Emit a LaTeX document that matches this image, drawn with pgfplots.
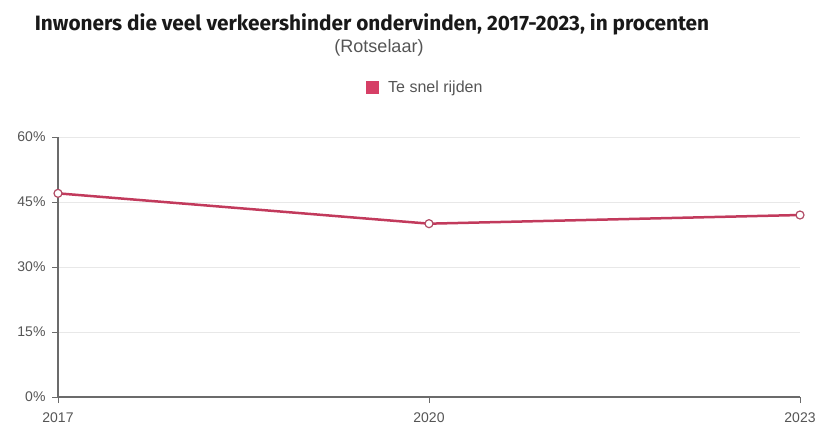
\documentclass[border=0pt]{standalone}
\usepackage{pgfplots}
\pgfplotsset{compat=1.18}
\usepackage{fontspec}
\setmainfont{Liberation Sans}
\newfontfamily\titlefont{Fira Sans}

\definecolor{lijn}{HTML}{C23A5C}
\definecolor{legvak}{HTML}{D63F66}
\definecolor{as}{HTML}{6B6B6B}
\definecolor{raster}{HTML}{E8E8E8}
\definecolor{tekst}{HTML}{555555}

\begin{document}
\begin{tikzpicture}[x=1pt,y=1pt]
\useasboundingbox (0,0) rectangle (819,426);
\begin{axis}[
    at={(58pt,29pt)}, anchor=south west,
    scale only axis,
    width=742pt, height=260pt,
    xmin=2017, xmax=2023,
    ymin=0, ymax=60,
    xtick={2017,2020,2023},
    ytick={0,15,30,45,60},
    yticklabel={\pgfmathprintnumber{\tick}\%},
    /pgf/number format/1000 sep={},
    /pgf/number format/assume math mode=true,
    axis x line*=bottom,
    axis y line*=left,
    axis line style={as, line width=1.2pt},
    tick style={as, line width=1pt},
    tick align=outside,
    major tick length=6pt,
    ymajorgrids,
    grid style={raster, line width=0.8pt},
    ticklabel style={font=\fontsize{14}{14}\selectfont, text=tekst},
    xticklabel style={yshift=-6pt},
    yticklabel style={xshift=-3pt},
    clip=false,
]
\addplot[lijn, line width=2.5pt, mark=*, mark size=4pt,
    mark options={fill=white, draw=lijn!75!gray, line width=1.2pt}]
    coordinates {(2017,47) (2020,40) (2023,42)};
\end{axis}
\node[anchor=base, font=\titlefont\bfseries\fontsize{20.8}{20.8}\selectfont, text=black!90]
    at (372,395) {Inwoners die veel verkeershinder ondervinden, 2017-2023, in procenten};
\node[anchor=base, font=\fontsize{18}{18}\selectfont, text=tekst]
    at (379,373) {(Rotselaar)};
\fill[legvak] (366,332) rectangle (379,345);
\node[anchor=base west, font=\fontsize{16}{16}\selectfont, text=tekst, inner sep=0pt]
    at (388,333) {Te snel rijden};
\end{tikzpicture}
\end{document}
